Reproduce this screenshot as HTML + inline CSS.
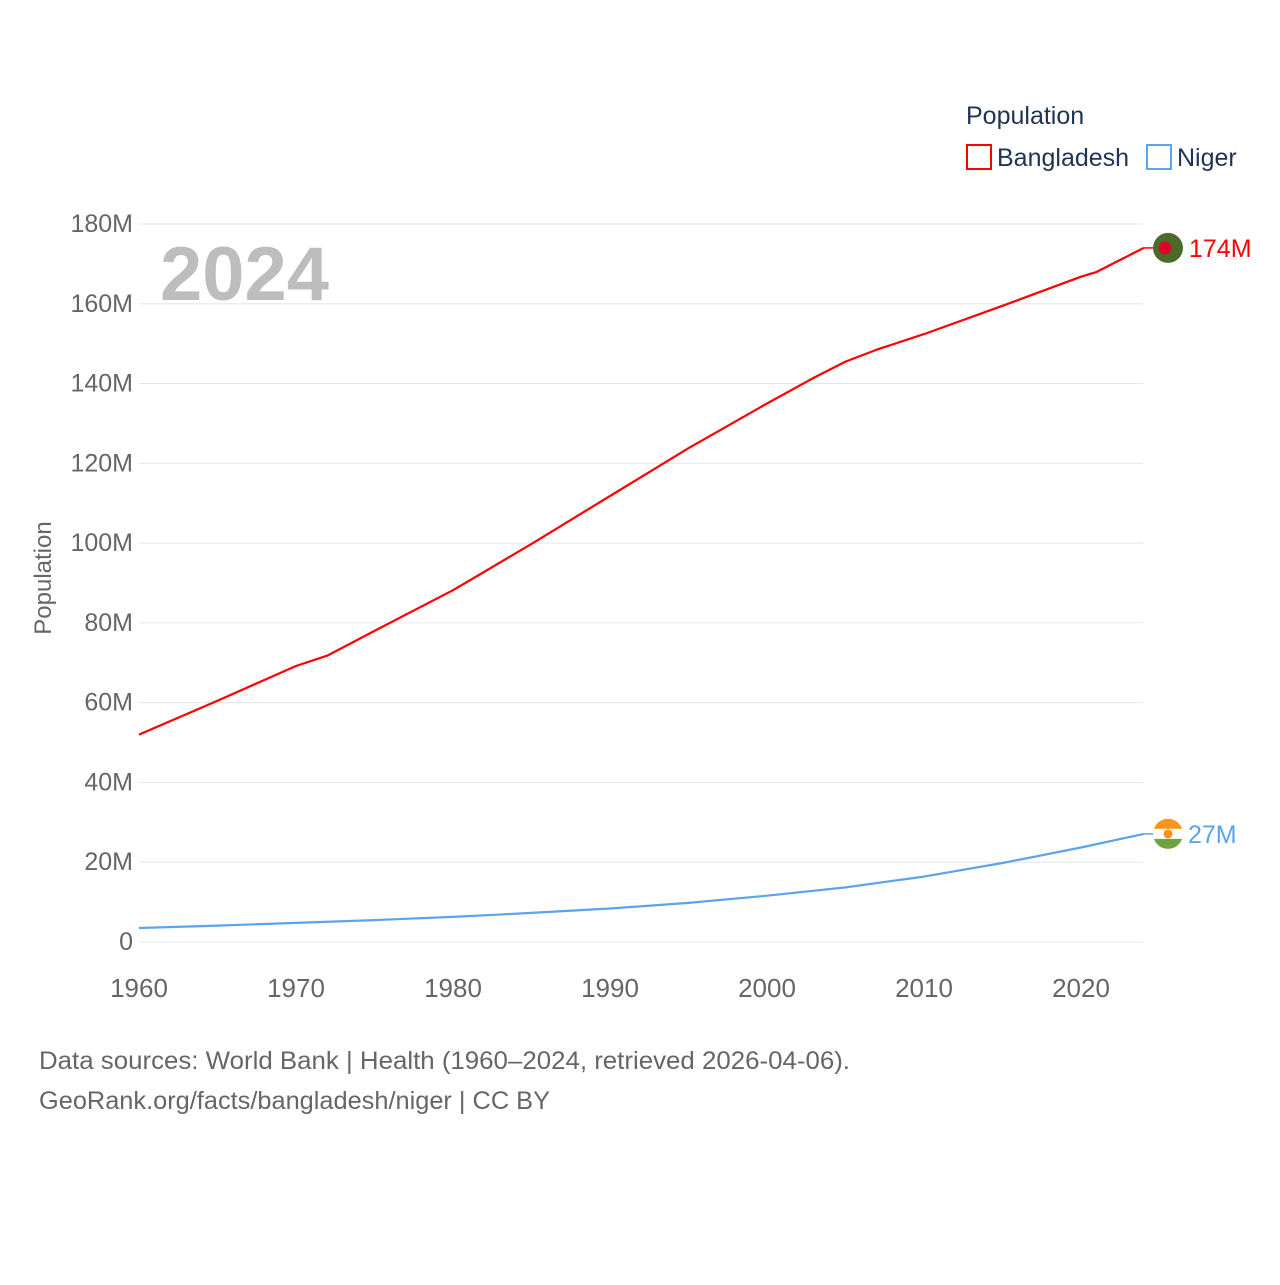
<!DOCTYPE html>
<html><head><meta charset="utf-8"><style>
body{margin:0;background:#fff;font-family:"Liberation Sans",sans-serif;}
#wrap{position:relative;width:1280px;height:1280px;}
</style></head><body>
<div id="wrap">
<svg id="chart" width="1280" height="1280"></svg>
</div>
<script>
const bdYears=[1960,1965,1970,1972,1975,1980,1981,1985,1990,1995,2000,2003,2005,2007,2010,2015,2020,2021,2022,2024];
const bdValues=[52,60.5,69.2,71.8,78,88.2,90.5,99.8,111.8,123.8,135,141.5,145.5,148.5,152.4,159.5,166.8,168,170,174];
const nYears=[1960,1965,1970,1975,1980,1985,1990,1995,2000,2005,2010,2015,2020,2024];
const nValues=[3.5,4.1,4.8,5.5,6.3,7.3,8.4,9.8,11.6,13.7,16.4,19.8,23.7,27.1];
const yTicks=[0,20,40,60,80,100,120,140,160,180];
const yTickLabels=["0","20M","40M","60M","80M","100M","120M","140M","160M","180M"];
const xTicks=[1960,1970,1980,1990,2000,2010,2020];
const NS="http://www.w3.org/2000/svg";
const svg=document.getElementById('chart');
const X=y=>139+(y-1960)*(942/60);
const Y=v=>942-v*(718/180);
function el(t,a,p){const e=document.createElementNS(NS,t);for(const k in a)e.setAttribute(k,a[k]);(p||svg).appendChild(e);return e;}
function txt(s,a){const e=el('text',a);e.textContent=s;return e;}
yTicks.forEach((t,i)=>{
 const g=el('line',{x1:139,x2:1143,y1:Y(t),y2:Y(t),stroke:'#e6e6e6','stroke-width':1});
 
 
 const l=txt(yTickLabels[i],{x:133,y:Y(t)+8,'text-anchor':'end','font-size':25,fill:'#666'});
 
 
});
xTicks.forEach(t=>{
 const l=txt(String(t),{x:X(t),y:997,'text-anchor':'middle','font-size':26,fill:'#666'});
 
 
});
const yt=txt('Population',{x:0,y:0,transform:'translate(51,578) rotate(-90)','text-anchor':'middle','font-size':24,fill:'#666'});


const yr=txt('2024',{x:160,y:300,'font-size':76,'font-weight':'bold',fill:'#bdbdbd'});


function line(xs,vs,c,name){
 const d=xs.map((x,i)=>(i?'L':'M')+X(x).toFixed(1)+','+Y(vs[i]).toFixed(1)).join(' ');
 const p=el('path',{d:d,fill:'none',stroke:c,'stroke-width':2.2,'stroke-linejoin':'round'});
 
 
}
line(bdYears,bdValues,'#ff0000','bangladesh-line');
line(nYears,nValues,'#5ba3ec','niger-line');
const bx=X(2024),by=Y(bdValues[bdValues.length-1]);
el('line',{x1:bx,x2:1155,y1:by,y2:by,stroke:'#ff0000','stroke-width':1.5});
const bf=el('circle',{cx:1168,cy:by,r:15,fill:'#4b6b2a'});


el('circle',{cx:1165,cy:by,r:6.5,fill:'#e0002a'});
const bl=txt(Math.round(bdValues[bdValues.length-1])+'M',{x:1189,y:by+9,'font-size':25,fill:'#ff0000'});


const nx=X(2024),ny=Y(nValues[nValues.length-1]);
el('line',{x1:nx,x2:1155,y1:ny,y2:ny,stroke:'#5ba3ec','stroke-width':1.5});
const defs=el('defs',{});
const cp=el('clipPath',{id:'nc'},defs);el('circle',{cx:1168,cy:ny,r:15},cp);
const ng=el('g',{'clip-path':'url(#nc)'});


el('rect',{x:1150,y:ny-15,width:40,height:10,fill:'#f7941d'},ng);
el('rect',{x:1150,y:ny-5,width:40,height:10,fill:'#fff'},ng);
el('rect',{x:1150,y:ny+5,width:40,height:10,fill:'#6ea340'},ng);
el('circle',{cx:1168,cy:ny,r:4.5,fill:'#f7941d'},ng);
const nl=txt(Math.round(nValues[nValues.length-1])+'M',{x:1188,y:ny+9,'font-size':25,fill:'#5ba3ec'});


const lt=txt('Population',{x:966,y:124,'font-size':25,fill:'#1f3352'});


const r1=el('rect',{x:967,y:145,width:24,height:24,fill:'none',stroke:'#ff0000','stroke-width':2});


const t1=txt('Bangladesh',{x:997,y:166,'font-size':25,fill:'#1f3352'});


const r2=el('rect',{x:1147,y:145,width:24,height:24,fill:'none',stroke:'#5ba3ec','stroke-width':2});


const t2=txt('Niger',{x:1177,y:166,'font-size':25,fill:'#1f3352'});


const s1=txt('Data sources: World Bank | Health (1960–2024, retrieved 2026-04-06).',{x:39,y:1069,'font-size':25,fill:'#666',textLength:811,lengthAdjust:'spacingAndGlyphs'});


const s2=txt('GeoRank.org/facts/bangladesh/niger | CC BY',{x:39,y:1109,'font-size':25,fill:'#666',textLength:511,lengthAdjust:'spacingAndGlyphs'});


</script>
</body></html>
